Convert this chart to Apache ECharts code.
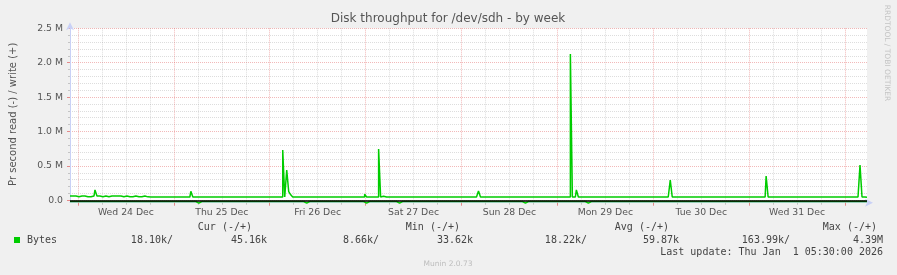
<!DOCTYPE html>
<html><head><meta charset="utf-8">
<script src="https://cdn.jsdelivr.net/npm/echarts@6/dist/echarts.min.js"></script>
<style>html,body{margin:0;padding:0;background:#F0F0F0;}#c{width:897px;height:275px;}</style>
</head><body><div id="c"></div>
<script>
// x axis: 400 samples of 30 minutes, first sample Tue 23 Dec 22:00
const START_HOUR = 22;
const STEP_HOURS = 0.5;
const dayLabels = ['Wed 24 Dec','Thu 25 Dec','Fri 26 Dec','Sat 27 Dec','Sun 28 Dec','Mon 29 Dec','Tue 30 Dec','Wed 31 Dec','Thu 01 Jan'];
const yTickValues = [0, 500000, 1000000, 1500000, 2000000, 2500000];

// write (+) in kB/s, 20 samples per row
const writeK = [
 62,62,62,62,52,52,62,62,62,52,52,62,62,150,62,62,52,52,62,52,
 52,62,62,52,62,62,62,52,62,62,52,52,62,62,52,52,52,62,50,50,
 48,48,48,48,48,48,48,48,48,48,48,48,48,48,48,48,48,48,48,48,
 48,130,48,48,48,48,48,48,48,48,48,48,48,48,48,48,48,48,48,48,
 48,48,48,48,48,48,48,48,48,48,48,48,48,48,48,48,48,48,48,48,
 48,48,48,48,48,48,48,730,48,440,125,80,48,48,48,48,48,48,48,48,
 48,48,48,48,48,48,48,48,48,48,48,48,48,48,48,48,48,48,48,48,
 48,48,48,48,48,48,48,48,87,48,48,48,48,48,48,745,48,60,48,48,
 48,48,48,48,48,48,48,48,48,48,48,48,48,48,48,48,48,48,48,48,
 48,48,48,48,48,48,48,48,48,48,48,48,48,48,48,48,48,48,48,48,
 48,48,48,48,48,135,48,48,48,48,48,48,48,48,48,48,48,48,48,48,
 48,48,48,48,48,48,48,48,48,48,48,48,48,48,48,48,48,48,48,48,
 48,48,48,48,48,48,48,48,48,48,48,2126,48,48,150,48,48,48,48,48,
 48,48,48,48,48,48,48,48,48,48,48,48,48,48,48,48,48,48,48,48,
 48,48,48,48,48,48,48,48,48,48,48,48,48,48,48,48,48,48,48,48,
 48,295,48,48,48,48,48,48,48,48,48,48,48,48,48,48,48,48,48,48,
 48,48,48,48,48,48,48,48,48,48,48,48,48,48,48,48,48,48,48,48,
 48,48,48,48,48,48,48,48,48,353,48,48,48,48,48,48,48,48,48,48,
 48,48,48,48,48,48,48,48,48,48,48,48,48,48,48,48,48,48,48,48,
 48,48,48,48,48,48,48,48,48,48,48,48,48,48,48,48,513,48,48,45
];
// read (-) in kB/s, 20 samples per row
const readK = [
 18,18,18,18,18,18,18,18,18,18,18,18,18,18,18,18,18,18,18,18,
 18,18,18,18,18,18,18,18,18,18,18,18,18,18,18,18,18,18,18,18,
 18,18,18,18,18,18,18,18,18,18,18,18,18,18,18,18,18,18,18,18,
 18,18,18,18,40,18,18,18,18,18,18,18,18,18,18,18,18,18,18,18,
 18,18,18,18,18,18,18,18,18,18,18,18,18,18,18,18,18,18,18,18,
 18,18,18,18,18,18,18,18,18,18,18,18,18,18,18,18,18,18,40,18,
 18,18,18,18,18,18,18,18,18,18,18,18,18,18,18,18,18,18,18,18,
 18,18,18,18,18,18,18,18,40,18,18,18,18,18,18,18,18,18,18,18,
 18,18,18,18,18,40,18,18,18,18,18,18,18,18,18,18,18,18,18,18,
 18,18,18,18,18,18,18,18,18,18,18,18,18,18,18,18,18,18,18,18,
 18,18,18,18,18,18,18,18,18,18,18,18,18,18,18,18,18,18,18,18,
 18,18,18,18,18,18,18,18,40,18,18,18,18,18,18,18,18,18,18,18,
 18,18,18,18,18,18,18,18,18,18,18,18,18,18,18,18,18,18,18,40,
 18,18,18,18,18,18,18,18,18,18,18,18,18,18,18,18,18,18,18,18,
 18,18,18,18,18,18,18,18,18,18,18,18,18,18,18,18,18,18,18,18,
 18,18,18,18,18,18,18,18,18,18,18,18,18,18,18,18,18,18,18,18,
 18,18,18,18,18,18,18,18,18,18,18,18,18,18,18,18,18,18,18,18,
 18,18,18,18,18,18,18,18,18,18,18,18,18,18,18,18,18,18,18,18,
 18,18,18,18,18,18,18,18,18,18,18,18,18,18,18,18,18,18,18,18,
 18,18,18,18,18,18,18,18,18,18,18,18,18,18,18,18,18,18,18,18
];
const legendHeaders = ['Cur (-/+)','Min (-/+)','Avg (-/+)','Max (-/+)'];
const legendReads = ['18.10k/','8.66k/','18.22k/','163.99k/'];
const legendWrites = ['45.16k','33.62k','59.87k','4.39M'];

const cats = writeK.map((_, i) => String(i));
function hourAt(i){ return (START_HOUR + i * STEP_HOURS) % 24; }
function dayAt(i){ return Math.floor((START_HOUR + i * STEP_HOURS) / 24) - 1; }
const is6h = (i) => { const h = hourAt(i); return h % 6 === 0 && h !== 0; };
const isMidnight = (i) => hourAt(i) === 0;
const isNoon = (i) => hourAt(i) === 12;

const FONT = 'DejaVu Sans';
const MONO = 'DejaVu Sans Mono';
const AXIS_BLUE = '#C9D1F6';
const GREEN = '#00CC00';
const RED_GRID = 'rgba(222,80,80,0.4)';
const GRAY_GRID = 'rgba(150,150,150,0.32)';

const chart = echarts.init(document.getElementById('c'), null, {renderer:'canvas'});
const colX = [252, 460, 669, 877];
const readX = [173, 379, 587, 790];
const writeX = [267, 473, 679, 883];
const graphics = [
  {type:'text', x:448, y:19, style:{text:'Disk throughput for /dev/sdh - by week', fontFamily:FONT, fontSize:12, fill:'#555', align:'center', verticalAlign:'middle'}},
  {type:'text', x:887, y:53, rotation:-Math.PI/2, style:{text:'RRDTOOL / TOBI OETIKER', fontFamily:FONT, fontSize:7.5, fill:'#C4C4C4', align:'center', verticalAlign:'middle'}},
  {type:'rect', shape:{x:14, y:237, width:6, height:6}, style:{fill:GREEN}},
  {type:'text', x:27, y:240, style:{text:'Bytes', fontFamily:MONO, fontSize:10, fill:'#444', align:'left', verticalAlign:'middle'}},
  {type:'text', x:883, y:252, style:{text:'Last update: Thu Jan  1 05:30:00 2026', fontFamily:MONO, fontSize:10, fill:'#444', align:'right', verticalAlign:'middle'}},
  {type:'text', x:448, y:264, style:{text:'Munin 2.0.73', fontFamily:FONT, fontSize:7.5, fill:'#BDBDBD', align:'center', verticalAlign:'middle'}}
];
legendHeaders.forEach((t, k) => {
  graphics.push({type:'text', x:colX[k], y:227.5, style:{text:t, fontFamily:MONO, fontSize:10, fill:'#444', align:'right', verticalAlign:'middle'}});
  graphics.push({type:'text', x:readX[k], y:240, style:{text:legendReads[k], fontFamily:MONO, fontSize:10, fill:'#444', align:'right', verticalAlign:'middle'}});
  graphics.push({type:'text', x:writeX[k], y:240, style:{text:legendWrites[k], fontFamily:MONO, fontSize:10, fill:'#444', align:'right', verticalAlign:'middle'}});
});

chart.setOption({
  animation:false,
  backgroundColor:'#F0F0F0',
  grid:{left:67, right:30, top:28.3, bottom:74.7, show:true, backgroundColor:'#FFFFFF', borderWidth:0},
  xAxis:[
    {type:'category', data:cats, boundaryGap:false, position:'bottom', offset:2.4,
     axisLine:{show:true, onZero:false, lineStyle:{color:AXIS_BLUE, width:1}, symbol:['none','arrow'], symbolSize:[6,8], symbolOffset:[0,6]},
     axisTick:{show:true, interval:(i)=>is6h(i), length:2, lineStyle:{color:'#C4C4C4'}},
     axisLabel:{show:true, interval:(i)=>isNoon(i), formatter:(v)=>dayLabels[dayAt(+v)], color:'#555', fontFamily:FONT, fontSize:9.3, margin:5},
     splitLine:{show:true, interval:(i)=>is6h(i), lineStyle:{color:GRAY_GRID, width:1, type:[1,1]}}},
    {type:'category', data:cats, boundaryGap:false, position:'bottom', offset:2.4,
     axisLine:{show:false, onZero:false},
     axisTick:{show:true, interval:(i)=>isMidnight(i), length:3, lineStyle:{color:'rgba(220,70,70,0.6)'}},
     axisLabel:{show:false},
     splitLine:{show:true, interval:(i)=>isMidnight(i), lineStyle:{color:RED_GRID, width:1, type:[1,1]}}}
  ],
  yAxis:{type:'value', min:yTickValues[0], max:yTickValues[yTickValues.length-1], interval:yTickValues[1]-yTickValues[0],
    axisLine:{show:true, onZero:false, lineStyle:{color:AXIS_BLUE, width:1}, symbol:['none','arrow'], symbolSize:[6,8], symbolOffset:[0,6]},
    axisTick:{show:true, length:3, lineStyle:{color:'rgba(220,70,70,0.6)'}},
    minorTick:{show:true, splitNumber:5, length:2, lineStyle:{color:'#C4C4C4'}},
    splitLine:{show:true, lineStyle:{color:RED_GRID, width:1, type:[1,1]}},
    minorSplitLine:{show:true, lineStyle:{color:GRAY_GRID, width:1, type:[1,1]}},
    axisLabel:{color:'#555', fontFamily:FONT, fontSize:9.3, margin:7, formatter:(v)=> v===0 ? '0.0' : (v/1e6).toFixed(1)+' M'},
    name:'Pr second read (-) / write (+)', nameLocation:'middle', nameRotate:90, nameGap:52,
    nameTextStyle:{color:'#555', fontFamily:FONT, fontSize:10}
  },
  graphic:graphics,
  series:[
    {type:'line', name:'read', xAxisIndex:0, data:readK.map(v=>-v*1000), step:'middle', symbol:'none', clip:false,
     lineStyle:{color:GREEN, width:1.5}, z:3},
    {type:'line', name:'write', xAxisIndex:0, data:writeK.map(v=>v*1000), step:'middle', symbol:'none',
     lineStyle:{color:GREEN, width:1.5}, z:4,
     markLine:{silent:true, symbol:'none', label:{show:false}, data:[{yAxis:0}], lineStyle:{color:'#000', width:1.5, type:'solid'}}}
  ]
});
</script></body></html>
